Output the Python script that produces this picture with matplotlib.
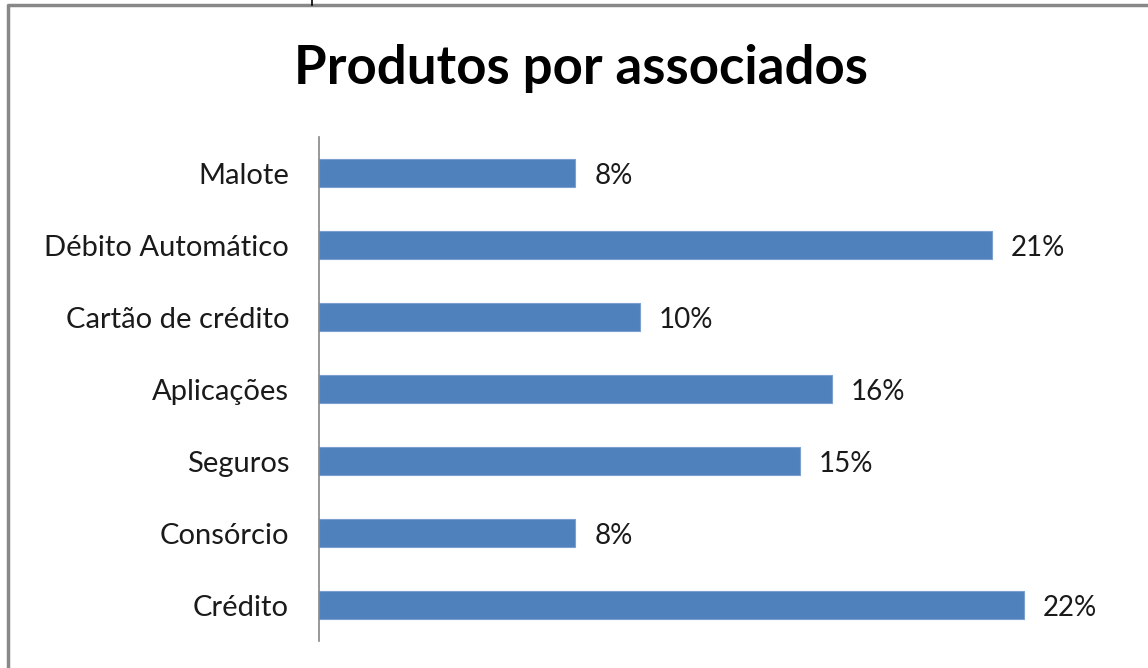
import matplotlib
matplotlib.use("Agg")
import matplotlib.pyplot as plt
from matplotlib.lines import Line2D

categories = ["Malote", "Débito Automático", "Cartão de crédito", "Aplicações",
              "Seguros", "Consórcio", "Crédito"]
values = [8, 21, 10, 16, 15, 8, 22]
value_labels = ["8%", "21%", "10%", "16%", "15%", "8%", "22%"]
title = "Produtos por associados"

plt.rcParams['font.family'] = ['Lato', 'DejaVu Sans']

fig = plt.figure(figsize=(11.48, 6.68), dpi=100)
ax = fig.add_axes([0.2779, 0.0404, 0.67, 0.7545])

ypos = list(range(len(categories)))[::-1]
ax.barh(ypos, values, height=0.39, color="#4F81BD", edgecolor="#7BA0CD", linewidth=0.8)
ax.set_ylim(-0.5, len(categories) - 0.5)
ax.set_xlim(0, 24)
ax.set_yticks(ypos)
ax.set_yticklabels(categories, fontsize=21, color="#1a1a1a")
ax.tick_params(axis='y', length=0, pad=21.6)
ax.set_xticks([])
for s in ["top", "right", "bottom"]:
    ax.spines[s].set_visible(False)
ax.spines["left"].set_color("#868686")
ax.spines["left"].set_linewidth(1.2)

for y, v, lab in zip(ypos, values, value_labels):
    ax.annotate(lab, (v, y), xytext=(13.7, -2), textcoords="offset points",
                ha="left", va="center", fontsize=20, color="#1a1a1a")

fig.text(0.506, 0.897, title, ha="center", va="center", fontsize=38,
         fontweight="bold", color="black")

# outer border (top and left)
W, H = 1148, 668
fig.add_artist(Line2D([8 / W, 8 / W, 1.0], [0.0, 1 - 5 / H, 1 - 5 / H],
                      transform=fig.transFigure, color="#888888", linewidth=2.5))
fig.add_artist(Line2D([312 / W, 312 / W], [1.0, 1 - 5 / H],
                      transform=fig.transFigure, color="black", linewidth=1.2))

fig.savefig("out.png", dpi=100)
